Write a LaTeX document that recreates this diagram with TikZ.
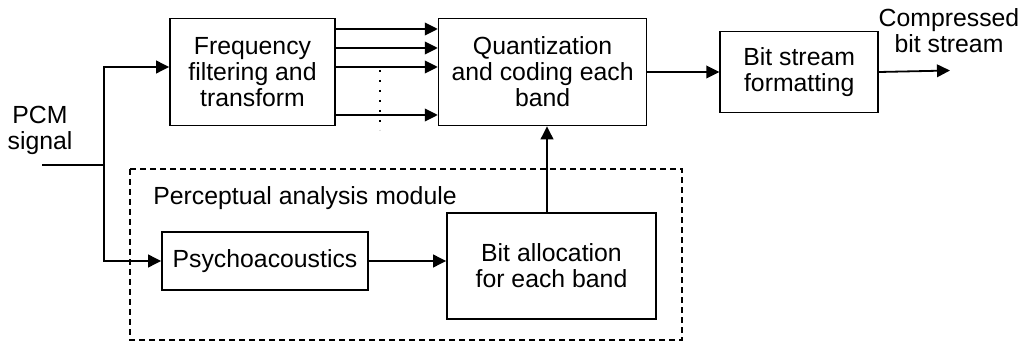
\documentclass[tikz,border=0pt]{standalone}
\usepackage{fontspec}
\setmainfont{Liberation Sans}
\usetikzlibrary{arrows.meta,positioning}

\begin{document}
\begin{tikzpicture}[
  x=0.5pt, y=-0.5pt,
  font=\fontsize{12.4}{13}\selectfont,
  box/.style={draw, line width=0.8pt, align=center, inner sep=2pt},
  arr/.style={-{Triangle[length=6.5pt,width=6.3pt]}, line width=0.9pt},
  module/.style={draw, dash pattern=on 3pt off 2pt, line width=0.6pt},
  dots/.style={dash pattern=on 1pt off 4pt, line width=1pt},
]
  \useasboundingbox (0,0) rectangle (1024,342);
  \node[box, minimum width=82.5pt, minimum height=53.5pt] (freq) at (252.5,72) {Frequency\\filtering and\\transform};
  \node[box, minimum width=104pt, minimum height=53.5pt, right=51pt of freq] (quant) {Quantization\\and coding each\\band};
  \node[box, minimum width=79pt, minimum height=40.5pt, right=36pt of quant] (fmt) {Bit stream\\formatting};
  \node[box, minimum width=103pt, minimum height=29pt] (psy) at (265,261) {Psychoacoustics};
  \node[box, minimum width=104.5pt, minimum height=53pt] (alloc) at (551.5,266) {Bit allocation\\for each band};
  \node[align=center] (pcm) at (40,130) {PCM\\signal};
  \node[align=center] (comp) at (949,31) {Compressed\\bit stream};
  \node[anchor=west, inner sep=0pt] (pam) at (153,198) {Perceptual analysis module};
  \draw[module] (130,169) rectangle (682,340);
  \coordinate (in) at (42,165);
  \coordinate (split) at (104,165);
  \coordinate (out) at (950,70.5);
  % input branches
  \draw[line width=0.9pt] (in) -- (split);
  \draw[arr] (split) |- ([yshift=2.5pt]freq.west);
  \draw[arr] (split) |- (psy.west);
  % subbands
  \foreach \dy in {21.5,12,2.5,-21.5}
    \draw[arr] ([yshift=\dy pt]freq.east) -- ([yshift=\dy pt]freq.east -| quant.west);
  \draw[dots] (380,70) -- (380,130);
  \draw[arr] (quant.east |- fmt.west) -- (fmt.west);
  \draw[arr] (fmt.east) -- (out);
  \draw[arr] (psy.east) -- (psy.east -| alloc.west);
  \draw[arr] ([xshift=-2.25pt]alloc.north) -- ([xshift=-2.25pt]alloc.north |- quant.south);
\end{tikzpicture}
\end{document}
